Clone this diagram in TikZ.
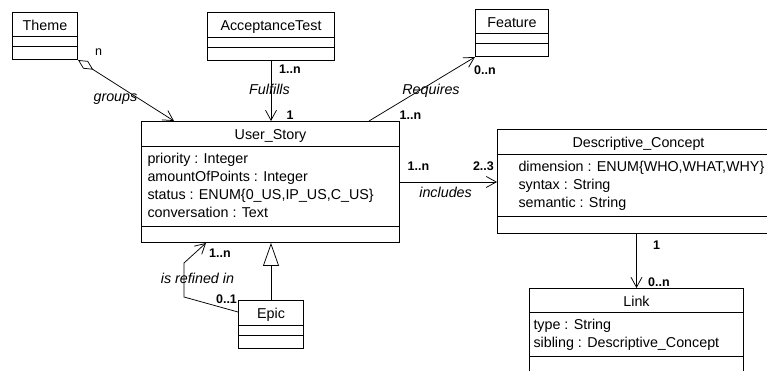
\documentclass[tikz,border=0pt]{standalone}
\usepackage{fontspec}
\setmainfont{Liberation Sans}
\usetikzlibrary{arrows.meta, positioning, shapes.multipart}
\newcommand{\cgap}[1]{\rule{0pt}{#1}}
\newcommand{\hstrut}{\rule[-2pt]{0pt}{16pt}}

\begin{document}
\begin{tikzpicture}[x=1pt, y=-1pt,
    cls/.style={draw, line width=1pt, rectangle split, rectangle split parts=3,
      rectangle split part align={center, left, left}, align=left,
      inner xsep=5pt, inner ysep=3.5pt, anchor=north west,
      font=\fontsize{14.3}{18}\selectfont},
    mult/.style={font=\fontsize{12.5}{14}\selectfont\bfseries, inner sep=0pt},
    role/.style={font=\fontsize{14.3}{16}\selectfont\itshape, inner sep=0pt},
    assoc/.style={line width=0.75pt, -{Straight Barb[length=10pt, width=11pt]}}
  ]
  \useasboundingbox (0,0) rectangle (767,371);
  \clip (0,0) rectangle (767,371);

  % classes
  \node[cls, minimum width=65pt] (theme) at (12,12)
    {\hstrut Theme\nodepart{two}\cgap{2pt}\nodepart{three}\cgap{5pt}};
  \node[cls, minimum width=127pt] (acctest) at (207,12)
    {\hstrut AcceptanceTest\nodepart{two}\cgap{2pt}\nodepart{three}\cgap{5pt}};
  \node[cls, minimum width=73pt] (feature) at (475,9)
    {\hstrut Feature\nodepart{two}\cgap{2pt}\nodepart{three}\cgap{5pt}};
  \node[cls, minimum width=258pt, inner xsep=6pt] (story) at (141,121)
    {\hstrut User\_Story
     \nodepart{two}\strut priority : Integer\\ amountOfPoints : Integer\\
       status : ENUM\{0\_US,IP\_US,C\_US\}\\ conversation : Text\strut
     \nodepart{three}\cgap{8pt}};
  \node[cls, minimum width=280pt, inner xsep=21pt] (concept) at (497,129)
    {\hstrut Descriptive\_Concept
     \nodepart{two}\strut\makebox[240pt][l]{dimension : ENUM\{WHO,WHAT,WHY\}}\\ syntax : String\\
       semantic : String\strut
     \nodepart{three}\cgap{9pt}};
  \node[cls, minimum width=214pt, inner xsep=4pt] (link) at (529,288)
    {\hstrut Link
     \nodepart{two}\strut type : String\\ sibling : Descriptive\_Concept\strut
     \nodepart{three}\cgap{20pt}};
  \node[cls, minimum width=65pt] (epic) at (238,300)
    {\hstrut Epic\nodepart{two}\cgap{2pt}\nodepart{three}\cgap{5pt}};

  % associations
  \draw[assoc, {Diamond[open, length=18pt, width=9pt]}-{Straight Barb[length=10pt, width=11pt]}]
    (theme.south east)
    -- node[mult, pos=0, font=\fontsize{12.5}{14}\selectfont, xshift=20.5pt, yshift=8pt] {n}
       node[role, pos=.39, yshift=-15pt] {groups}
    ([xshift=33pt]story.north west);
  \draw[assoc] (acctest.south)
    -- node[mult, pos=.14, xshift=19pt] {1..n}
       node[role, pos=.48, xshift=-1.5pt] {Fulfills}
       node[mult, pos=.9, xshift=19pt] {1}
    (acctest.south |- story.north);
  \draw[assoc] ([xshift=228pt]story.north west)
    -- node[mult, pos=0, xshift=41.5pt, yshift=5.5pt] {1..n}
       node[role, pos=.585, yshift=-7.5pt] {Requires}
       node[mult, pos=1, xshift=10pt, yshift=-13pt] {0..n}
    (feature.south west);
  \draw[assoc] (story.east)
    -- node[mult, pos=.19, yshift=16pt] {1..n}
       node[mult, pos=.86, yshift=16pt] {2..3}
       node[role, pos=.47, yshift=-10.5pt] {includes}
    (story.east -| concept.west);
  \draw[assoc] (link.north |- concept.south)
    -- node[mult, pos=.2, xshift=20pt] {1}
       node[mult, pos=.9, xshift=22.5pt] {0..n}
    (link.north);
  \draw[assoc] ([yshift=-12pt]epic.north west)
    -- node[mult, pos=0, xshift=-11.5pt, yshift=12.5pt] {0..1} ++(-54,-15)
    -- node[role, pos=.55, xshift=13.5pt] {is refined in} ++(0,-34)
    -- node[mult, pos=1, xshift=14pt, yshift=-10.5pt] {1..n} ([xshift=65pt]story.south west);

  % generalization
  \draw[line width=0.75pt, -{Triangle[open, length=23pt, width=16pt]}]
    (epic.north) -- (epic.north |- story.south);
\end{tikzpicture}
\end{document}
